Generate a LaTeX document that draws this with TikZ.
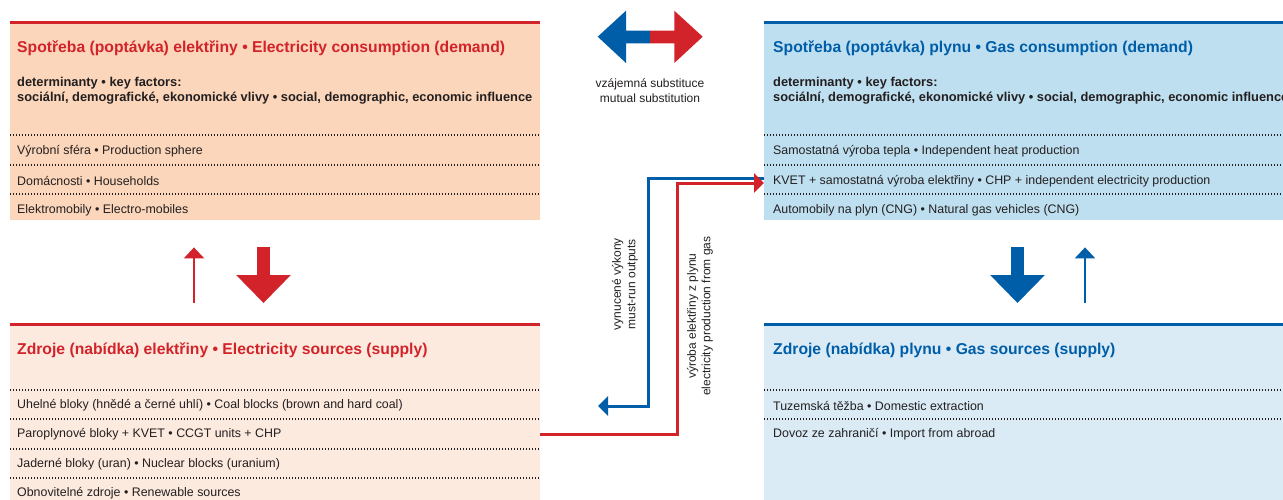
\documentclass[tikz,border=0pt]{standalone}
\usepackage{fontspec}
\setmainfont{Liberation Sans}
\usetikzlibrary{arrows.meta,calc}

\definecolor{elred}{RGB}{210,35,42}
\definecolor{gasblue}{RGB}{0,94,168}
\definecolor{elpeach}{RGB}{251,214,186}
\definecolor{ellight}{RGB}{253,234,223}
\definecolor{gasdark}{RGB}{190,223,240}
\definecolor{gaslight}{RGB}{218,235,246}
\definecolor{txt}{RGB}{35,31,32}

\tikzset{
  box/.style={rectangle, anchor=north west, inner sep=0pt, minimum height=198pt},
  title/.style={anchor=west, inner sep=0pt, font=\fontsize{15.7}{18}\selectfont\bfseries},
  keyf/.style={anchor=north west, inner sep=0pt, align=left, text=txt,
    font=\fontsize{12.85}{15}\selectfont\bfseries},
  item/.style={anchor=west, inner sep=0pt, text=txt, font=\fontsize{12.4}{14}\selectfont},
  note/.style={inner sep=0pt, align=center, text=txt, font=\fontsize{12}{14.5}\selectfont},
  sep/.style={line width=1.2pt, dash pattern=on 1.2pt off 1.8pt, txt},
  topline/.style={line width=3pt},
  fatarrow/.style={line width=13pt, -{Triangle[length=28pt,width=53pt]}},
  thinarrow/.style={line width=2.5pt, -{Triangle[length=11pt,width=20pt]}},
  flow/.style={line width=3pt, -{Triangle[length=10pt,width=19pt]}}
}

\begin{document}
\begin{tikzpicture}[x=1pt,y=-1pt]
\useasboundingbox (0,0) rectangle (1283,499);

% boxes
\node[box, fill=elpeach, minimum width=530pt] (eldem) at (10,22) {};
\node[box, fill=ellight, minimum width=530pt, minimum height=176pt] (elsup) at (10,324) {};
\node[box, fill=gasdark, minimum width=519pt] (gdem) at (764,22) {};
\node[box, fill=gaslight, minimum width=519pt, minimum height=176pt] (gsup) at (764,324) {};

\draw[topline, elred] (eldem.north west) -- (eldem.north east);
\draw[topline, elred] (elsup.north west) -- (elsup.north east);
\draw[topline, gasblue] (gdem.north west) -- (gdem.north east);
\draw[topline, gasblue] (gsup.north west) -- (gsup.north east);

% dotted rows
\foreach \y in {135,165,194} {
  \draw[sep] (eldem.west |- 0,\y) -- (eldem.east |- 0,\y);
  \draw[sep] (gdem.west |- 0,\y) -- (gdem.east |- 0,\y);
}
\foreach \y in {390,419,449,478}
  \draw[sep] (elsup.west |- 0,\y) -- (elsup.east |- 0,\y);
\foreach \y in {390,419}
  \draw[sep] (gsup.west |- 0,\y) -- (gsup.east |- 0,\y);

% electricity demand
\node[title, text=elred] (eldemt) at (17,48) {Spotřeba (poptávka) elektřiny • Electricity consumption (demand)};
\node[keyf] (eldemk) at (17,76.5) {determinanty • key factors:\\sociální, demografické, ekonomické vlivy • social, demographic, economic influence};
\node[item] (eprod) at (17,151) {Výrobní sféra • Production sphere};
\node[item] (ehouse) at (17,181) {Domácnosti • Households};
\node[item] (emob) at (17,210) {Elektromobily • Electro-mobiles};

% electricity sources
\node[title, text=elred] (elsupt) at (17,350) {Zdroje (nabídka) elektřiny • Electricity sources (supply)};
\node[item] (ecoal) at (17,405) {Uhelné bloky (hnědé a černé uhlí) • Coal blocks (brown and hard coal)};
\node[item] (eccgt) at (17,434.5) {Paroplynové bloky + KVET • CCGT units + CHP};
\node[item] (enucl) at (17,464) {Jaderné bloky (uran) • Nuclear blocks (uranium)};
\node[item] (erenew) at (17,493.5) {Obnovitelné zdroje • Renewable sources};

% gas demand
\node[title, text=gasblue] (gdemt) at (773,48) {Spotřeba (poptávka) plynu • Gas consumption (demand)};
\node[keyf] (gdemk) at (773,76.5) {determinanty • key factors:\\sociální, demografické, ekonomické vlivy • social, demographic, economic influence};
\node[item] (gheat) at (773,151) {Samostatná výroba tepla • Independent heat production};
\node[item] (gkvet) at (773,181) {KVET + samostatná výroba elektřiny • CHP + independent electricity production};
\node[item] (gcng) at (773,210) {Automobily na plyn (CNG) • Natural gas vehicles (CNG)};

% gas sources
\node[title, text=gasblue] (gsupt) at (773,350) {Zdroje (nabídka) plynu • Gas sources (supply)};
\node[item] (gdom) at (773,405.5) {Tuzemská těžba • Domestic extraction};
\node[item] (gimp) at (773,434.5) {Dovoz ze zahraničí • Import from abroad};

% mutual substitution
\fill[gasblue] (597.7,36.7) -- (626,10.7) -- (626,30.7) -- (650,30.7) -- (650,43.3) -- (626,43.3) -- (626,63) -- cycle;
\fill[elred] (702.7,36.7) -- (674.3,10.7) -- (674.3,30.7) -- (650,30.7) -- (650,43.3) -- (674.3,43.3) -- (674.3,63) -- cycle;
\node[note] (subst) at (650,90.5) {vzájemná substituce\\mutual substitution};

% demand <-> supply
\draw[fatarrow, elred] ($(eldem.south west)+(253.5,27)$) -- ($(elsup.north west)+(253.5,-21)$);
\draw[thinarrow, elred] ($(elsup.north west)+(184,-21)$) -- ($(eldem.south west)+(184,27)$);
\draw[fatarrow, gasblue] ($(gdem.south west)+(253.5,27)$) -- ($(gsup.north west)+(253.5,-21)$);
\draw[thinarrow, gasblue] ($(gsup.north west)+(321,-21)$) -- ($(gdem.south west)+(321,27)$);

% cross links
\coordinate (mrunend) at (598,406);
\draw[flow, gasblue] ($(gdem.west |- gkvet)+(0,-3)$) -| ($(mrunend)+(50.5,0)$) -- (mrunend);
\draw[flow, elred] (elsup.east |- eccgt) -| ($(gdem.west |- gkvet)+(-87,2)$) -- ($(gdem.west |- gkvet)+(0,2)$);
\node[note, rotate=90] (mustrun) at (625,284) {vynucené výkony\\must-run outputs};
\node[note, rotate=90] (gasel) at (700,316) {výroba elektřiny z plynu\\electricity production from gas};

\end{tikzpicture}
\end{document}
